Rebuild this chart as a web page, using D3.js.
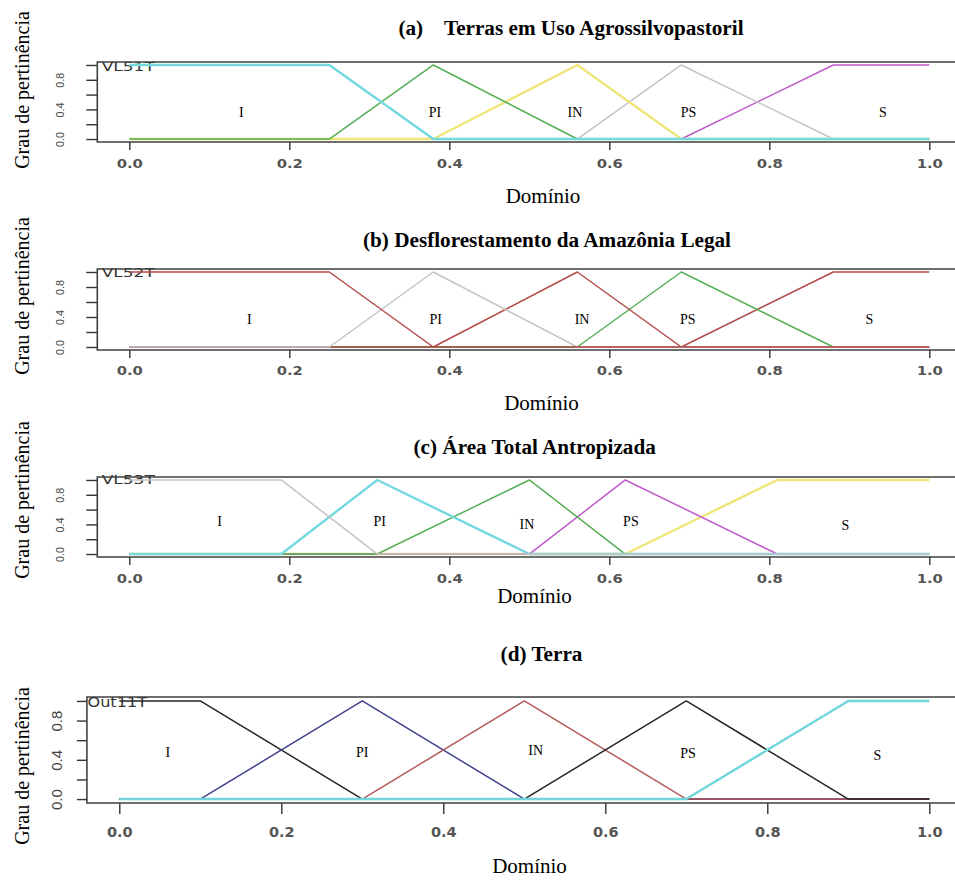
<!DOCTYPE html>
<html>
<head>
<meta charset="utf-8">
<script src="https://cdn.jsdelivr.net/npm/d3@7"></script>
<style>
  body { margin: 0; background: #fff; }
  svg { display: block; }
</style>
</head>
<body>
<div id="chart"></div>
<script>
// fuzzy sets, each term given by its (domínio, grau) breakpoints
const termNames = ['I', 'PI', 'IN', 'PS', 'S'];
const domainTicks = [0, 0.2, 0.4, 0.6, 0.8, 1.0];
const domainTickLabels = ['0.0', '0.2', '0.4', '0.6', '0.8', '1.0'];
const grauTicks = [0, 0.2, 0.4, 0.6, 0.8, 1.0];
const grauTickLabels = ['0.0', '', '0.4', '', '0.8', ''];

const panelTitles = [
    '(a)    Terras em Uso Agrossilvopastoril',
    '(b) Desflorestamento da Amazônia Legal',
    '(c) Área Total Antropizada',
    '(d) Terra'
];
const variableNames = ['VL51T', 'VL52T', 'VL53T', 'Out11T'];

const vl51t = [
    [[0, 1], [0.25, 1], [0.38, 0], [1, 0]],
    [[0, 0], [0.25, 0], [0.38, 1], [0.56, 0], [1, 0]],
    [[0, 0], [0.38, 0], [0.56, 1], [0.69, 0], [1, 0]],
    [[0, 0], [0.56, 0], [0.69, 1], [0.88, 0], [1, 0]],
    [[0, 0], [0.69, 0], [0.88, 1], [1, 1]]
];
const vl52t = [
    [[0, 1], [0.25, 1], [0.38, 0], [1, 0]],
    [[0, 0], [0.25, 0], [0.38, 1], [0.56, 0], [1, 0]],
    [[0, 0], [0.38, 0], [0.56, 1], [0.69, 0], [1, 0]],
    [[0, 0], [0.56, 0], [0.69, 1], [0.88, 0], [1, 0]],
    [[0, 0], [0.69, 0], [0.88, 1], [1, 1]]
];
const vl53t = [
    [[0, 1], [0.19, 1], [0.31, 0], [1, 0]],
    [[0, 0], [0.19, 0], [0.31, 1], [0.50, 0], [1, 0]],
    [[0, 0], [0.31, 0], [0.50, 1], [0.62, 0], [1, 0]],
    [[0, 0], [0.50, 0], [0.62, 1], [0.81, 0], [1, 0]],
    [[0, 0], [0.62, 0], [0.81, 1], [1, 1]]
];
const out11t = [
    [[0, 1], [0.1, 1], [0.3, 0], [1, 0]],
    [[0, 0], [0.1, 0], [0.3, 1], [0.5, 0], [1, 0]],
    [[0, 0], [0.3, 0], [0.5, 1], [0.7, 0], [1, 0]],
    [[0, 0], [0.5, 0], [0.7, 1], [0.9, 0], [1, 0]],
    [[0, 0], [0.7, 0], [0.9, 1], [1, 1]]
];

// where the term names sit, in (domínio, grau)
const labels51 = [[0.14, 0.36], [0.382, 0.36], [0.557, 0.36], [0.699, 0.36], [0.942, 0.37]];
const labels52 = [[0.15, 0.37], [0.383, 0.37], [0.566, 0.37], [0.698, 0.37], [0.925, 0.37]];
const labels53 = [[0.113, 0.44], [0.313, 0.44], [0.497, 0.41], [0.627, 0.44], [0.895, 0.39]];
const labels11 = [[0.06, 0.48], [0.30, 0.48], [0.514, 0.50], [0.702, 0.47], [0.936, 0.45]];

const CYAN = '#74d8e0', GREEN = '#55b055', YELLOW = '#efe67a', GRAY = '#c4c4c4',
      MAGENTA = '#c05acb', RED = '#b44a4a', BLACK = '#262626', NAVY = '#40408f',
      BROWN = '#b45a5a', CYAN2 = '#70d6dc';
const thickColors = [CYAN, YELLOW, CYAN2];

const panels = [
    { sets: vl51t, labels: labels51, colors: [CYAN, GREEN, YELLOW, GRAY, MAGENTA], reverse: true,
      top: 62, bottom: 142, x0: 129.3, x1: 929.3, yTick: 11, xTick: 8, yLabX: 64, xLabY: 168,
      tickFont: 11.4, tickStretch: 1.3, yTickFont: 10.8,
      titleX: 571, titleY: 35, nameDx: 4.4, nameDy: 8.5, nameFont: 12.5, nameStretch: 1.36,
      xTitleX: 543, xTitleY: 203, yTitleY: 90 },
    { sets: vl52t, labels: labels52, colors: [RED, GRAY, RED, GREEN, RED], reverse: true,
      top: 269, bottom: 350, x0: 129.3, x1: 929.3, yTick: 11, xTick: 8, yLabX: 64, xLabY: 375,
      tickFont: 11.4, tickStretch: 1.3, yTickFont: 10.8,
      titleX: 547, titleY: 247, nameDx: 4.4, nameDy: 8, nameFont: 12.5, nameStretch: 1.36,
      xTitleX: 541.5, xTitleY: 410, yTitleY: 296 },
    { sets: vl53t, labels: labels53, colors: [GRAY, CYAN, GREEN, MAGENTA, YELLOW], reverse: true,
      top: 477, bottom: 557, x0: 129.3, x1: 929.3, yTick: 11, xTick: 8, yLabX: 64, xLabY: 583,
      tickFont: 11.4, tickStretch: 1.3, yTickFont: 10.8,
      titleX: 534.7, titleY: 454, nameDx: 4.4, nameDy: 7, nameFont: 12.5, nameStretch: 1.36,
      xTitleX: 534.5, xTitleY: 603, yTitleY: 500 },
    { sets: out11t, labels: labels11, colors: [BLACK, NAVY, BROWN, BLACK, CYAN2], reverse: false,
      top: 697, bottom: 803, x0: 119.3, x1: 929.3, yTick: 10, xTick: 11, yLabX: 62, xLabY: 836.5,
      tickFont: 14.5, tickStretch: 1, yTickFont: 15,
      titleX: 541.5, titleY: 661, nameDx: 0.6, nameDy: 10, nameFont: 14, nameStretch: 1.15,
      xTitleX: 529.5, xTitleY: 873, yTitleY: 766 }
];

const svg = d3.select('#chart')
    .append('svg')
    .attr('width', 955)
    .attr('height', 881);

panels.forEach(function(p, k) {

    const x = d3.scaleLinear().domain([0, 1]).range([p.x0, p.x1]);
    const y = d3.scaleLinear().domain([-0.04, 1.04]).range([p.bottom, p.top]);
    const left = x(-0.04);

    const g = svg.append('g').attr('class', 'panel');

    // title
    g.append('text')
        .attr('x', p.titleX)
        .attr('y', p.titleY)
        .attr('text-anchor', 'middle')
        .style('white-space', 'pre')
        .style('font-family', '"Liberation Serif", "Times New Roman", serif')
        .style('font-weight', 'bold')
        .style('font-size', '21.2px')
        .text(panelTitles[k]);

    // variable name in the corner, under the lines
    g.append('text')
        .attr('transform', 'translate(' + [left + p.nameDx, p.top + p.nameDy] + ') scale(' + p.nameStretch + ',1)')
        .style('font-family', '"DejaVu Sans", sans-serif')
        .style('font-size', p.nameFont + 'px')
        .attr('fill', '#333')
        .text(variableNames[k]);

    // axes
    const yAxis = g.append('g')
        .attr('transform', 'translate(' + left + ',0)')
        .call(d3.axisLeft(y).tickValues(grauTicks).tickSize(p.yTick)
            .tickFormat((d, i) => grauTickLabels[i]));
    yAxis.select('.domain').remove();
    yAxis.selectAll('line').attr('stroke', '#333').attr('stroke-width', 1.4);
    yAxis.selectAll('text')
        .attr('transform', 'rotate(-90)')
        .attr('x', 0)
        .attr('y', p.yLabX - left)
        .attr('dy', 0)
        .attr('text-anchor', 'middle')
        .attr('fill', '#444')
        .style('font-family', '"Liberation Sans", Arial, sans-serif')
        .style('font-size', p.yTickFont + 'px');

    const xAxis = g.append('g')
        .attr('transform', 'translate(0,' + p.bottom + ')')
        .call(d3.axisBottom(x).tickValues(domainTicks).tickSize(p.xTick)
            .tickFormat((d, i) => domainTickLabels[i]));
    xAxis.select('.domain').remove();
    xAxis.selectAll('line').attr('stroke', '#333').attr('stroke-width', 1.4);
    xAxis.selectAll('text')
        .attr('y', p.xLabY - p.bottom)
        .attr('dy', 0)
        .attr('transform', 'scale(' + p.tickStretch + ',1)')
        .attr('fill', '#555')
        .style('font-family', '"DejaVu Sans", sans-serif')
        .style('font-weight', 'bold')
        .style('font-size', p.tickFont + 'px');

    // membership lines
    const line = d3.line()
        .x(d => x(d[0]))
        .y(d => y(d[1]));

    const order = d3.range(p.sets.length);
    if (p.reverse) {
        order.reverse();
    }

    g.append('g')
        .attr('class', 'sets')
        .selectAll('path')
        .data(order)
        .join('path')
        .attr('d', i => line(p.sets[i]))
        .attr('fill', 'none')
        .attr('stroke', i => p.colors[i])
        .attr('stroke-width', i => thickColors.includes(p.colors[i]) ? 2.4 : 1.5)
        .attr('stroke-linejoin', 'round');

    // term names
    g.append('g')
        .selectAll('text')
        .data(p.labels)
        .join('text')
        .attr('x', d => x(d[0]))
        .attr('y', d => y(d[1]))
        .attr('dy', '0.35em')
        .attr('text-anchor', 'middle')
        .style('font-family', '"Liberation Serif", "Times New Roman", serif')
        .style('font-size', '14px')
        .text((d, i) => termNames[i]);

    // frame (right side runs off the page)
    g.append('path')
        .attr('d', 'M' + x(1.04) + ',' + p.top + 'H' + left + 'V' + p.bottom + 'H' + x(1.04))
        .attr('fill', 'none')
        .attr('stroke', '#404040')
        .attr('stroke-width', 1.6);

    // axis titles
    g.append('text')
        .attr('x', p.xTitleX)
        .attr('y', p.xTitleY)
        .attr('text-anchor', 'middle')
        .style('font-family', '"Liberation Serif", "Times New Roman", serif')
        .style('font-size', '21px')
        .text('Domínio');

    g.append('text')
        .attr('transform', 'translate(' + [29, p.yTitleY] + ') rotate(-90)')
        .attr('text-anchor', 'middle')
        .style('font-family', '"Liberation Serif", "Times New Roman", serif')
        .style('font-size', '20px')
        .text('Grau de pertinência');
});
</script>
</body>
</html>
